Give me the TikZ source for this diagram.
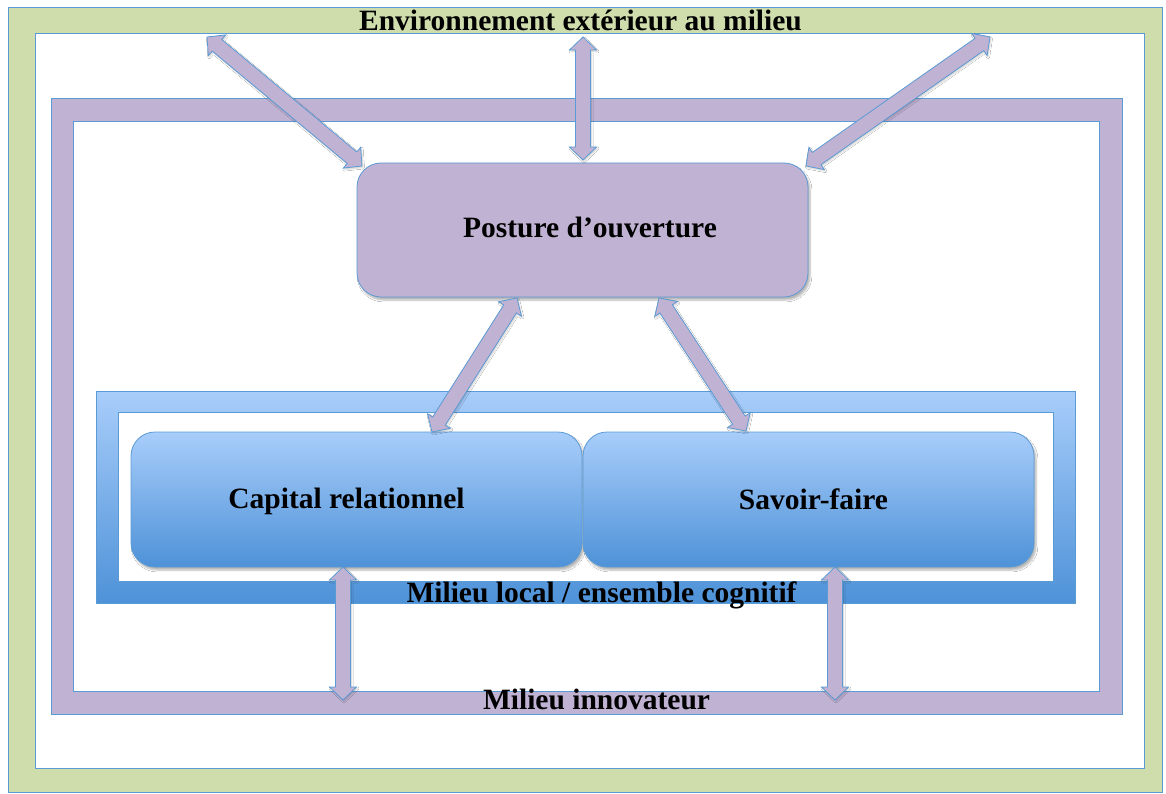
\documentclass[tikz,border=0pt]{standalone}
\usepackage{fontspec}
\setmainfont{Liberation Serif}
\usetikzlibrary{calc,shadows.blur}
\definecolor{frameblue}{RGB}{91,155,213}
\definecolor{envgreen}{RGB}{207,221,172}
\definecolor{lilac}{RGB}{192,178,211}
\definecolor{lightblue}{RGB}{168,205,250}
\definecolor{darkblue}{RGB}{78,146,216}
\tikzset{
  framelilac/.style={fill=lilac, draw=frameblue, line width=1pt, even odd rule},
  framegreen/.style={fill=envgreen, draw=frameblue, line width=1pt, even odd rule},
  bluebox/.style={rounded corners=24pt, top color=lightblue, bottom color=darkblue, draw=frameblue, line width=0.8pt,
    blur shadow={shadow xshift=2pt, shadow yshift=-3pt, shadow blur steps=6, shadow opacity=30}},
  lilacbox/.style={rounded corners=24pt, fill=lilac, draw=frameblue, line width=0.8pt,
    blur shadow={shadow xshift=2pt, shadow yshift=-3pt, shadow blur steps=6, shadow opacity=30}},
  barrowstyle/.style={fill=lilac, draw=frameblue, line width=0.8pt, line join=miter,
    blur shadow={shadow xshift=1pt, shadow yshift=-1.5pt, shadow blur steps=4, shadow blur radius=1.5pt, shadow opacity=20}},
  lbl/.style={font=\bfseries\fontsize{29.5}{32}\selectfont, anchor=base, inner sep=0pt},
}
% double-headed block arrow between two named coordinates
\newcommand\blockarrow[2]{%
  \coordinate (ah) at ($(#1)!13pt!(#2)$);
  \coordinate (bh) at ($(#2)!13pt!(#1)$);
  \draw[barrowstyle] (#1) -- ($(ah)!13.5pt!90:(#2)$) -- ($(ah)!7.5pt!90:(#2)$)
    -- ($(bh)!7.5pt!-90:(#1)$) -- ($(bh)!13.5pt!-90:(#1)$) -- (#2)
    -- ($(bh)!13.5pt!90:(#1)$) -- ($(bh)!7.5pt!90:(#1)$)
    -- ($(ah)!7.5pt!-90:(#2)$) -- ($(ah)!13.5pt!-90:(#2)$) -- cycle;}
\begin{document}
\begin{tikzpicture}[x=1pt,y=-1pt]
\useasboundingbox[fill=white] (0,0) rectangle (1166,794);
% outer environment frame
\path[framegreen] (8,8) rectangle (1162,792) (35,34) rectangle (1144,768);
% milieu innovateur frame
\path[framelilac] (51,99) rectangle (1122,714) (73,122) rectangle (1099,691);
% milieu local frame
\shade[top color=lightblue, bottom color=darkblue, even odd rule] (96,391) rectangle (1075,603) (118,412) rectangle (1053,581);
\draw[frameblue, line width=0.8pt] (96,391) rectangle (1075,603) (118,412) rectangle (1053,581);
% boxes
\path[lilacbox] (357,163) rectangle (808,297);
\node (post) at (582.5,230) {};
\path[bluebox] (131,432) rectangle (582,567);
\path[bluebox] (583,432) rectangle (1034,567);
\node (cap) at (356.5,499.5) {};
\node (sav) at (808.5,499.5) {};
% arrows
\coordinate (e1) at (207,37);   \coordinate (p1) at (362,166);
\coordinate (e2) at (583,37);   \coordinate (p2) at (583,160);
\coordinate (e3) at (990,37);   \coordinate (p3) at (806,166);
\coordinate (p4) at (517,298);  \coordinate (c4) at (432,432);
\coordinate (p5) at (659,298);  \coordinate (s5) at (746,431);
\coordinate (c6) at (343,567);  \coordinate (m6) at (343,700);
\coordinate (s7) at (835,567);  \coordinate (m7) at (835,700);
\blockarrow{e1}{p1}
\blockarrow{e2}{p2}
\blockarrow{e3}{p3}
\blockarrow{p4}{c4}
\blockarrow{p5}{s5}
\blockarrow{c6}{m6}
\blockarrow{s7}{m7}
% labels
\node[lbl] (tenv) at (580.5,31) {Environnement extérieur au milieu};
\node[lbl] (tpost) at (590,237) {Posture d’ouverture};
\node[lbl] (tcap) at (346.5,508) {Capital relationnel};
\node[lbl] (tsav) at (813.5,509) {Savoir-faire};
\node[lbl] (tloc) at (601.5,602) {Milieu local / ensemble cognitif};
\node[lbl] (tinn) at (596.5,709) {Milieu innovateur};
\end{tikzpicture}
\end{document}
